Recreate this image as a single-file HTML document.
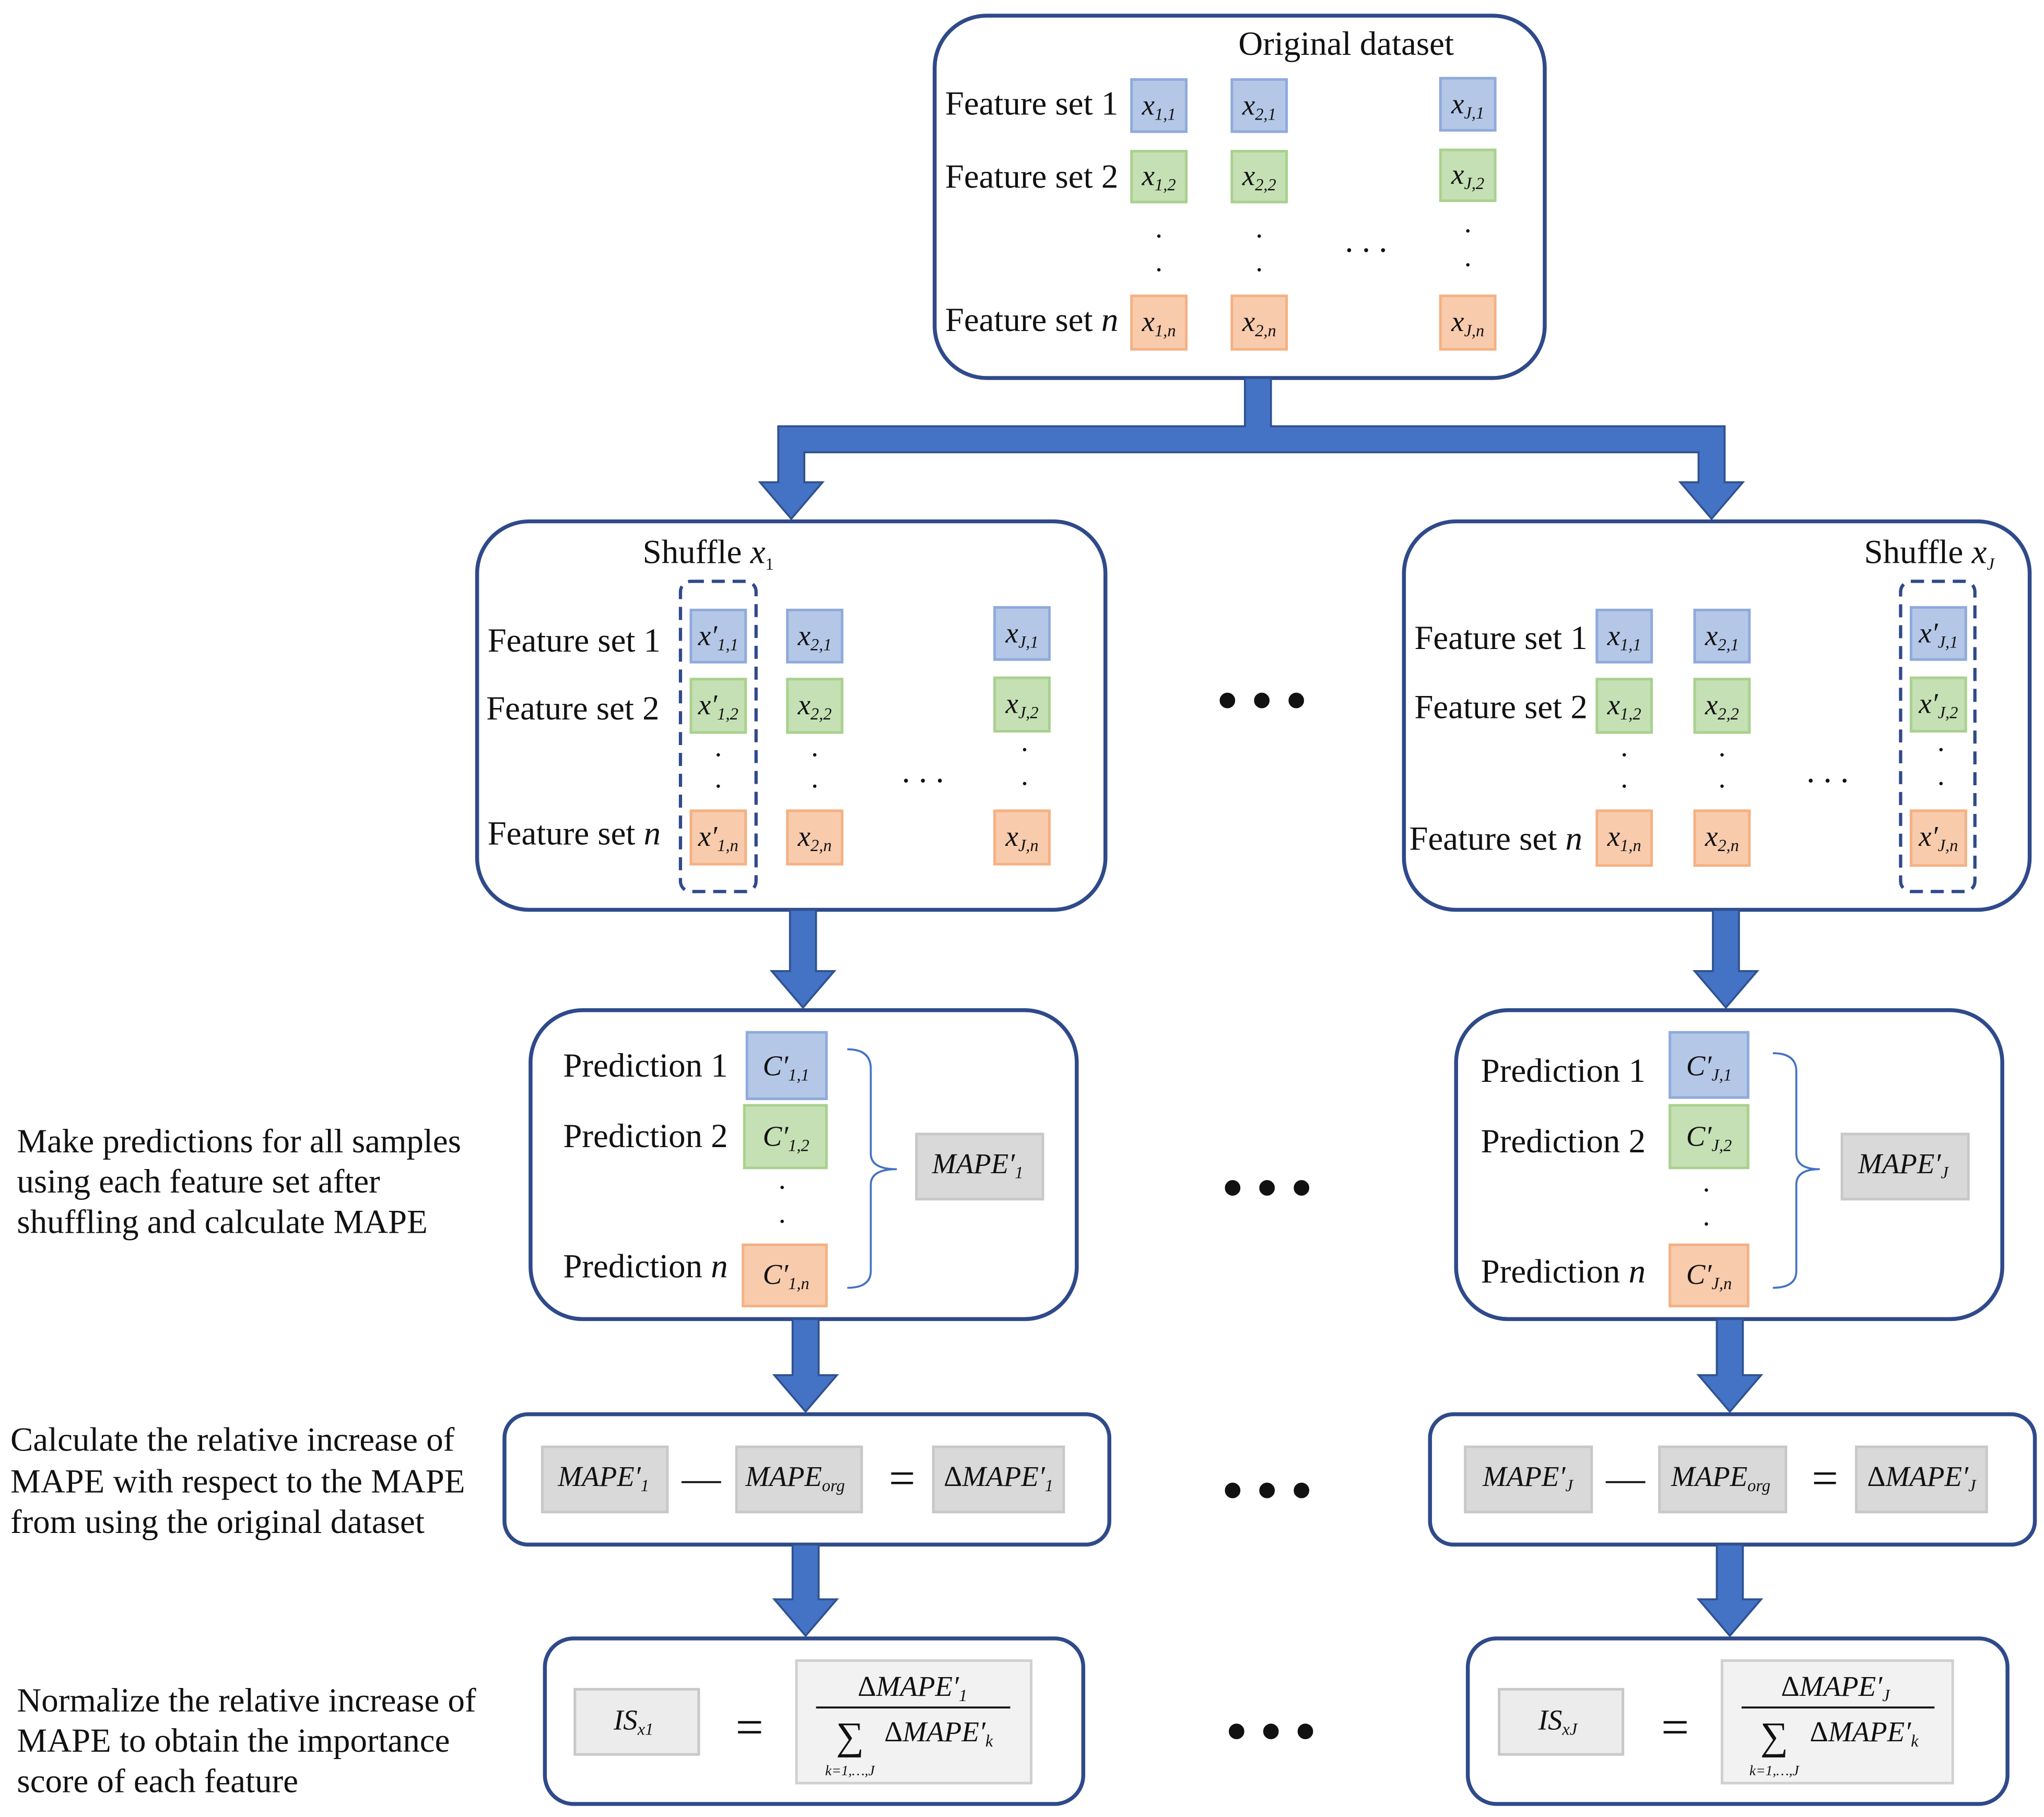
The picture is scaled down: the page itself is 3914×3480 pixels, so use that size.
<!DOCTYPE html>
<html><head><meta charset="utf-8"><style>
html,body{margin:0;padding:0;background:#fff;}
svg{display:block;}
text{font-family:"Liberation Serif",serif;fill:#111;}
.lbl{font-size:26px;}
.m{font-style:italic;font-size:22px;}
.s{font-size:13px;}
.b{fill:#B4C7E7;stroke:#8FAADC;stroke-width:2;}
.g{fill:#C5E0B4;stroke:#A9D18E;stroke-width:2;}
.o{fill:#F8CBAD;stroke:#F4B183;stroke-width:2;}
.y{fill:#D9D9D9;stroke:#C8C8C8;stroke-width:2;}
.box{fill:#fff;stroke:#2F4A8A;stroke-width:3;}
.ar{fill:#4472C4;stroke:#2F528F;stroke-width:1.5;}
.dot{font-size:22px;}
</style></head><body>
<svg width="3914" height="3480" viewBox="0 0 1568 1394" preserveAspectRatio="none" xmlns="http://www.w3.org/2000/svg">
<rect width="1568" height="1394" fill="#fff"/>

<!-- Top box -->
<rect class="box" x="717" y="12" width="468" height="278" rx="40"/>
<text class="lbl" x="950" y="42">Original dataset</text>
<text class="lbl" x="725" y="88">Feature set 1</text>
<text class="lbl" x="725" y="144">Feature set 2</text>
<text class="lbl" x="725" y="254">Feature set <tspan font-style="italic">n</tspan></text>
<rect class="b" x="868" y="61" width="42" height="40"/><text class="m" x="889" y="88" text-anchor="middle">x<tspan class="s" dy="4">1,1</tspan></text>
<rect class="b" x="945" y="61" width="42" height="40"/><text class="m" x="966" y="88" text-anchor="middle">x<tspan class="s" dy="4">2,1</tspan></text>
<rect class="b" x="1105" y="60" width="42" height="40"/><text class="m" x="1126" y="87" text-anchor="middle">x<tspan class="s" dy="4">J,1</tspan></text>
<rect class="g" x="868" y="116" width="42" height="39"/><text class="m" x="889" y="142" text-anchor="middle">x<tspan class="s" dy="4">1,2</tspan></text>
<rect class="g" x="945" y="116" width="42" height="39"/><text class="m" x="966" y="142" text-anchor="middle">x<tspan class="s" dy="4">2,2</tspan></text>
<rect class="g" x="1105" y="115" width="42" height="39"/><text class="m" x="1126" y="141" text-anchor="middle">x<tspan class="s" dy="4">J,2</tspan></text>
<rect class="o" x="868" y="227" width="42" height="41"/><text class="m" x="889" y="254" text-anchor="middle">x<tspan class="s" dy="4">1,n</tspan></text>
<rect class="o" x="945" y="227" width="42" height="41"/><text class="m" x="966" y="254" text-anchor="middle">x<tspan class="s" dy="4">2,n</tspan></text>
<rect class="o" x="1105" y="227" width="42" height="41"/><text class="m" x="1126" y="254" text-anchor="middle">x<tspan class="s" dy="4">J,n</tspan></text>
<text class="dot" x="889" y="182" text-anchor="middle">.</text><text class="dot" x="889" y="208" text-anchor="middle">.</text>
<text class="dot" x="966" y="182" text-anchor="middle">.</text><text class="dot" x="966" y="208" text-anchor="middle">.</text>
<text class="dot" x="1126" y="178" text-anchor="middle">.</text><text class="dot" x="1126" y="204" text-anchor="middle">.</text>
<text class="lbl" x="1048" y="193" text-anchor="middle">. . .</text>

<!-- Split arrows -->
<polygon class="ar" points="955,290 975,290 975,327 1323,327 1323,370 1337,370 1313,398 1289,370 1303,370 1303,347 617,347 617,370 631,370 607,398 583,370 597,370 597,327 955,327"/>

<!-- Left shuffle box -->
<rect class="box" x="366" y="400" width="482" height="298" rx="40"/>
<text class="lbl" x="493" y="432">Shuffle <tspan font-style="italic">x</tspan><tspan class="s" dy="5">1</tspan></text>
<text class="lbl" x="374" y="500">Feature set 1</text>
<text class="lbl" x="373" y="552">Feature set 2</text>
<text class="lbl" x="374" y="648">Feature set <tspan font-style="italic">n</tspan></text>
<rect x="522" y="446" width="58" height="238" rx="8" fill="none" stroke="#2F4A8A" stroke-width="2.5" stroke-dasharray="10,6"/>
<rect class="b" x="530" y="468" width="42" height="40"/><text class="m" x="551" y="495" text-anchor="middle">x′<tspan class="s" dy="4">1,1</tspan></text>
<rect class="b" x="604" y="468" width="42" height="40"/><text class="m" x="625" y="495" text-anchor="middle">x<tspan class="s" dy="4">2,1</tspan></text>
<rect class="b" x="763" y="466" width="42" height="40"/><text class="m" x="784" y="493" text-anchor="middle">x<tspan class="s" dy="4">J,1</tspan></text>
<rect class="g" x="530" y="521" width="42" height="41"/><text class="m" x="551" y="548" text-anchor="middle">x′<tspan class="s" dy="4">1,2</tspan></text>
<rect class="g" x="604" y="521" width="42" height="41"/><text class="m" x="625" y="548" text-anchor="middle">x<tspan class="s" dy="4">2,2</tspan></text>
<rect class="g" x="763" y="520" width="42" height="41"/><text class="m" x="784" y="547" text-anchor="middle">x<tspan class="s" dy="4">J,2</tspan></text>
<rect class="o" x="530" y="622" width="42" height="41"/><text class="m" x="551" y="649" text-anchor="middle">x′<tspan class="s" dy="4">1,n</tspan></text>
<rect class="o" x="604" y="622" width="42" height="41"/><text class="m" x="625" y="649" text-anchor="middle">x<tspan class="s" dy="4">2,n</tspan></text>
<rect class="o" x="763" y="622" width="42" height="41"/><text class="m" x="784" y="649" text-anchor="middle">x<tspan class="s" dy="4">J,n</tspan></text>
<text class="dot" x="551" y="580" text-anchor="middle">.</text><text class="dot" x="551" y="604" text-anchor="middle">.</text>
<text class="dot" x="625" y="580" text-anchor="middle">.</text><text class="dot" x="625" y="604" text-anchor="middle">.</text>
<text class="dot" x="786" y="576" text-anchor="middle">.</text><text class="dot" x="786" y="602" text-anchor="middle">.</text>
<text class="lbl" x="708" y="600" text-anchor="middle">. . .</text>

<!-- Right shuffle box -->
<rect class="box" x="1077" y="400" width="480" height="298" rx="40"/>
<text class="lbl" x="1430" y="432">Shuffle <tspan font-style="italic">x</tspan><tspan class="s" dy="5" font-style="italic">J</tspan></text>
<text class="lbl" x="1085" y="498">Feature set 1</text>
<text class="lbl" x="1085" y="551">Feature set 2</text>
<text class="lbl" x="1081" y="652">Feature set <tspan font-style="italic">n</tspan></text>
<rect x="1458" y="446" width="57" height="238" rx="8" fill="none" stroke="#2F4A8A" stroke-width="2.5" stroke-dasharray="10,6"/>
<rect class="b" x="1225" y="468" width="42" height="40"/><text class="m" x="1246" y="495" text-anchor="middle">x<tspan class="s" dy="4">1,1</tspan></text>
<rect class="b" x="1300" y="468" width="42" height="40"/><text class="m" x="1321" y="495" text-anchor="middle">x<tspan class="s" dy="4">2,1</tspan></text>
<rect class="b" x="1466" y="466" width="42" height="40"/><text class="m" x="1487" y="493" text-anchor="middle">x′<tspan class="s" dy="4">J,1</tspan></text>
<rect class="g" x="1225" y="521" width="42" height="41"/><text class="m" x="1246" y="548" text-anchor="middle">x<tspan class="s" dy="4">1,2</tspan></text>
<rect class="g" x="1300" y="521" width="42" height="41"/><text class="m" x="1321" y="548" text-anchor="middle">x<tspan class="s" dy="4">2,2</tspan></text>
<rect class="g" x="1466" y="520" width="42" height="41"/><text class="m" x="1487" y="547" text-anchor="middle">x′<tspan class="s" dy="4">J,2</tspan></text>
<rect class="o" x="1225" y="622" width="42" height="42"/><text class="m" x="1246" y="649" text-anchor="middle">x<tspan class="s" dy="4">1,n</tspan></text>
<rect class="o" x="1300" y="622" width="42" height="42"/><text class="m" x="1321" y="649" text-anchor="middle">x<tspan class="s" dy="4">2,n</tspan></text>
<rect class="o" x="1466" y="622" width="42" height="42"/><text class="m" x="1487" y="649" text-anchor="middle">x′<tspan class="s" dy="4">J,n</tspan></text>
<text class="dot" x="1246" y="580" text-anchor="middle">.</text><text class="dot" x="1246" y="604" text-anchor="middle">.</text>
<text class="dot" x="1321" y="580" text-anchor="middle">.</text><text class="dot" x="1321" y="604" text-anchor="middle">.</text>
<text class="dot" x="1489" y="576" text-anchor="middle">.</text><text class="dot" x="1489" y="602" text-anchor="middle">.</text>
<text class="lbl" x="1402" y="600" text-anchor="middle">. . .</text>

<text x="968" y="552" font-size="44" text-anchor="middle" font-weight="bold">• • •</text>

<!-- arrows level 2 -->
<polygon class="ar" points="606,698 626,698 626,745 640,745 616,773 592,745 606,745"/>
<polygon class="ar" points="1314,698 1334,698 1334,745 1348,745 1324,773 1300,745 1314,745"/>

<!-- Prediction boxes -->
<rect class="box" x="407" y="775" width="419" height="237" rx="40"/>
<text class="lbl" x="432" y="826">Prediction 1</text>
<text class="lbl" x="432" y="880">Prediction 2</text>
<text class="lbl" x="432" y="980">Prediction <tspan font-style="italic">n</tspan></text>
<rect class="b" x="573" y="792" width="61" height="51"/><text class="m" x="603" y="825" text-anchor="middle">C′<tspan class="s" dy="4">1,1</tspan></text>
<rect class="g" x="571" y="848" width="63" height="48"/><text class="m" x="603" y="879" text-anchor="middle">C′<tspan class="s" dy="4">1,2</tspan></text>
<rect class="o" x="570" y="955" width="64" height="47"/><text class="m" x="603" y="985" text-anchor="middle">C′<tspan class="s" dy="4">1,n</tspan></text>
<text class="dot" x="600" y="912" text-anchor="middle">.</text><text class="dot" x="600" y="938" text-anchor="middle">.</text>
<path d="M650,805 Q668,805 668,820 L668,885 Q668,897 688,897 Q668,897 668,909 L668,975 Q668,988 650,988" fill="none" stroke="#4472C4" stroke-width="1.5"/>
<rect class="y" x="703" y="870" width="97" height="50"/><text class="m" x="750" y="900" text-anchor="middle">MAPE′<tspan class="s" dy="4">1</tspan></text>

<rect class="box" x="1117" y="775" width="419" height="237" rx="40"/>
<text class="lbl" x="1136" y="830">Prediction 1</text>
<text class="lbl" x="1136" y="884">Prediction 2</text>
<text class="lbl" x="1136" y="984">Prediction <tspan font-style="italic">n</tspan></text>
<rect class="b" x="1281" y="792" width="60" height="50"/><text class="m" x="1311" y="825" text-anchor="middle">C′<tspan class="s" dy="4">J,1</tspan></text>
<rect class="g" x="1281" y="848" width="60" height="48"/><text class="m" x="1311" y="879" text-anchor="middle">C′<tspan class="s" dy="4">J,2</tspan></text>
<rect class="o" x="1281" y="955" width="60" height="47"/><text class="m" x="1311" y="985" text-anchor="middle">C′<tspan class="s" dy="4">J,n</tspan></text>
<text class="dot" x="1309" y="914" text-anchor="middle">.</text><text class="dot" x="1309" y="940" text-anchor="middle">.</text>
<path d="M1360,808 Q1378,808 1378,822 L1378,885 Q1378,897 1396,897 Q1378,897 1378,909 L1378,975 Q1378,988 1360,988" fill="none" stroke="#4472C4" stroke-width="1.5"/>
<rect class="y" x="1413" y="870" width="97" height="50"/><text class="m" x="1460" y="900" text-anchor="middle">MAPE′<tspan class="s" dy="4">J</tspan></text>

<text x="972" y="926" font-size="44" text-anchor="middle" font-weight="bold">• • •</text>

<text class="lbl" x="13" y="884">Make predictions for all samples</text>
<text class="lbl" x="13" y="915">using each feature set after</text>
<text class="lbl" x="13" y="946">shuffling and calculate MAPE</text>

<!-- arrows level 3 -->
<polygon class="ar" points="608,1012 628,1012 628,1055 642,1055 618,1083 594,1055 608,1055"/>
<polygon class="ar" points="1317,1012 1337,1012 1337,1055 1351,1055 1327,1083 1303,1055 1317,1055"/>

<!-- Delta boxes -->
<rect class="box" x="387" y="1085" width="464" height="100" rx="18"/>
<rect class="y" x="416" y="1110" width="96" height="50"/><text class="m" x="463" y="1140" text-anchor="middle">MAPE′<tspan class="s" dy="4">1</tspan></text>
<text x="538" y="1144" font-size="30" text-anchor="middle">—</text>
<rect class="y" x="565" y="1110" width="96" height="50"/><text class="m" x="610" y="1140" text-anchor="middle">MAPE<tspan class="s" dy="4">org</tspan></text>
<text x="692" y="1146" font-size="36" text-anchor="middle">=</text>
<rect class="y" x="716" y="1110" width="100" height="50"/><text class="m" x="766" y="1140" text-anchor="middle"><tspan font-style="normal">Δ</tspan>MAPE′<tspan class="s" dy="4">1</tspan></text>

<rect class="box" x="1097" y="1085" width="464" height="100" rx="18"/>
<rect class="y" x="1124" y="1110" width="97" height="50"/><text class="m" x="1172" y="1140" text-anchor="middle">MAPE′<tspan class="s" dy="4">J</tspan></text>
<text x="1247" y="1144" font-size="30" text-anchor="middle">—</text>
<rect class="y" x="1273" y="1110" width="97" height="50"/><text class="m" x="1320" y="1140" text-anchor="middle">MAPE<tspan class="s" dy="4">org</tspan></text>
<text x="1400" y="1146" font-size="36" text-anchor="middle">=</text>
<rect class="y" x="1424" y="1110" width="100" height="50"/><text class="m" x="1474" y="1140" text-anchor="middle"><tspan font-style="normal">Δ</tspan>MAPE′<tspan class="s" dy="4">J</tspan></text>

<text x="972" y="1158" font-size="44" text-anchor="middle" font-weight="bold">• • •</text>

<text class="lbl" x="8" y="1113">Calculate the relative increase of</text>
<text class="lbl" x="8" y="1145">MAPE with respect to the MAPE</text>
<text class="lbl" x="8" y="1176">from using the original dataset</text>

<!-- arrows level 4 -->
<polygon class="ar" points="608,1185 628,1185 628,1227 642,1227 618,1255 594,1227 608,1227"/>
<polygon class="ar" points="1317,1185 1337,1185 1337,1227 1351,1227 1327,1255 1303,1227 1317,1227"/>

<!-- Bottom boxes -->
<rect class="box" x="418" y="1257" width="413" height="127" rx="22"/>
<rect class="y" x="441" y="1296" width="95" height="50" fill-opacity="0.5"/><text class="m" x="486" y="1327" text-anchor="middle">IS<tspan class="s" dy="4">x1</tspan></text>
<text x="575" y="1338" font-size="38" text-anchor="middle">=</text>
<rect x="611" y="1274" width="180" height="94" fill="#F2F2F2" stroke="#D0D0D0" stroke-width="2"/>
<text class="m" x="700" y="1301" text-anchor="middle"><tspan font-style="normal">Δ</tspan>MAPE′<tspan class="s" dy="4">1</tspan></text>
<line x1="626" y1="1310" x2="775" y2="1310" stroke="#111" stroke-width="1.5"/>
<text x="652" y="1342" font-size="30" text-anchor="middle">∑</text>
<text class="m" x="720" y="1336" text-anchor="middle"><tspan font-style="normal">Δ</tspan>MAPE′<tspan class="s" dy="4">k</tspan></text>
<text x="652" y="1362" font-size="11" text-anchor="middle" font-style="italic">k=1,…,J</text>

<rect class="box" x="1126" y="1257" width="414" height="127" rx="22"/>
<rect class="y" x="1150" y="1296" width="95" height="50" fill-opacity="0.5"/><text class="m" x="1195" y="1327" text-anchor="middle">IS<tspan class="s" dy="4">xJ</tspan></text>
<text x="1285" y="1338" font-size="38" text-anchor="middle">=</text>
<rect x="1321" y="1274" width="177" height="94" fill="#F2F2F2" stroke="#D0D0D0" stroke-width="2"/>
<text class="m" x="1408" y="1301" text-anchor="middle"><tspan font-style="normal">Δ</tspan>MAPE′<tspan class="s" dy="4">J</tspan></text>
<line x1="1336" y1="1310" x2="1484" y2="1310" stroke="#111" stroke-width="1.5"/>
<text x="1361" y="1342" font-size="30" text-anchor="middle">∑</text>
<text class="m" x="1430" y="1336" text-anchor="middle"><tspan font-style="normal">Δ</tspan>MAPE′<tspan class="s" dy="4">k</tspan></text>
<text x="1361" y="1362" font-size="11" text-anchor="middle" font-style="italic">k=1,…,J</text>

<text x="975" y="1343" font-size="44" text-anchor="middle" font-weight="bold">• • •</text>

<text class="lbl" x="13" y="1313">Normalize the relative increase of</text>
<text class="lbl" x="13" y="1344">MAPE to obtain the importance</text>
<text class="lbl" x="13" y="1375">score of each feature</text>
</svg>
</body></html>
